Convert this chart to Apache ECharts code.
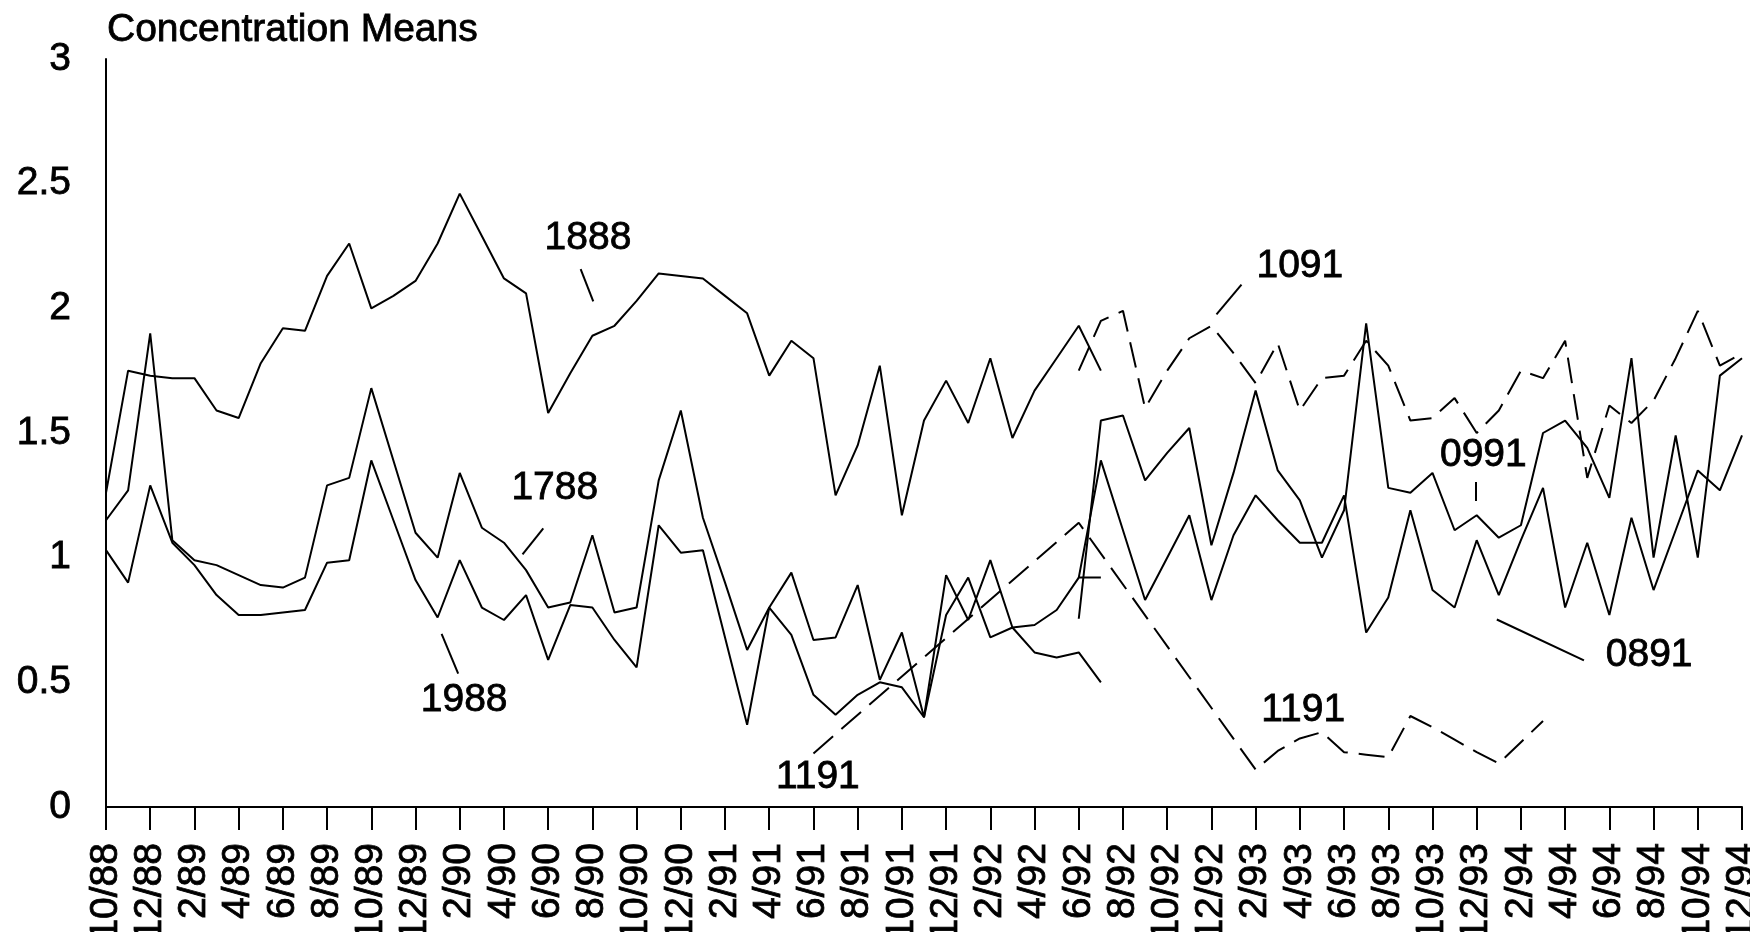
<!DOCTYPE html>
<html>
<head>
<meta charset="utf-8">
<script src="https://cdn.jsdelivr.net/npm/echarts@6/dist/echarts.min.js"></script>
<style>
html,body{margin:0;padding:0;background:#fff;}
#chart{width:1750px;height:932px;}
</style>
</head>
<body>
<div id="chart"></div>
<script>
// month index 0 = 10/88 ... 74 = 12/94 ; tick labels every 2 months
const tickLabels = ["10/88","12/88","2/89","4/89","6/89","8/89","10/89","12/89","2/90","4/90","6/90","8/90","10/90","12/90","2/91","4/91","6/91","8/91","10/91","12/91","2/92","4/92","6/92","8/92","10/92","12/92","2/93","4/93","6/93","8/93","10/93","12/93","2/94","4/94","6/94","8/94","10/94","12/94"];

const s1888 = [1.26,1.75,1.73,1.72,1.72,1.59,1.56,1.78,1.92,1.91,2.13,2.26,2.00,2.05,2.11,2.26,2.46,2.29,2.12,2.06,1.58,1.74,1.89,1.93,2.03,2.14,2.13,2.12,2.05,1.98,1.73,1.87,1.80,1.25,1.45,1.77,1.17,1.55,1.71,1.54,1.80,1.48,1.67,1.80,1.93,1.75,
 null,null,null,null,null,null,null,null,null,null,null,null,null,null,null,null,null,null,null,null,null,null,null,null,null,null,null,null,null];
const s1788 = [1.15,1.27,1.90,1.07,0.99,0.97,0.93,0.89,0.88,0.92,1.29,1.32,1.68,1.39,1.10,1.00,1.34,1.12,1.06,0.95,0.80,0.82,1.09,0.78,0.80,1.31,1.59,1.16,0.90,0.63,0.80,0.94,0.67,0.68,0.89,0.51,0.70,0.36,0.93,0.75,0.99,0.72,0.73,0.79,0.92,0.92,
 null,null,null,null,null,null,null,null,null,null,null,null,null,null,null,null,null,null,null,null,null,null,null,null,null,null,null,null,null];
const s1988 = [1.03,0.90,1.29,1.06,0.97,0.85,0.77,0.77,0.78,0.79,0.98,0.99,1.39,1.15,0.91,0.76,0.99,0.80,0.75,0.85,0.59,0.81,0.80,0.67,0.56,1.13,1.02,1.03,0.68,0.33,0.80,0.69,0.45,0.37,0.45,0.50,0.48,0.36,0.77,0.92,0.68,0.72,0.62,0.60,0.62,0.50,
 null,null,null,null,null,null,null,null,null,null,null,null,null,null,null,null,null,null,null,null,null,null,null,null,null,null,null,null,null];
const s1091 = [null,null,null,null,null,null,null,null,null,null,null,null,null,null,null,null,null,null,null,null,null,null,null,null,null,null,null,null,null,null,null,null,null,null,null,null,null,null,null,null,null,null,null,null,
 1.75,1.95,1.99,1.60,1.75,1.88,1.93,1.82,1.70,1.86,1.59,1.72,1.73,1.87,1.77,1.55,1.56,1.64,1.50,1.59,1.75,1.72,1.87,1.32,1.61,1.54,1.63,1.80,1.99,1.77,1.82];
const s0991 = [null,null,null,null,null,null,null,null,null,null,null,null,null,null,null,null,null,null,null,null,null,null,null,null,null,null,null,null,null,null,null,null,null,null,null,null,null,null,null,null,null,null,null,null,
 0.755,1.55,1.57,1.31,1.42,1.52,1.05,1.34,1.67,1.35,1.23,1.00,1.19,1.94,1.28,1.26,1.34,1.11,1.17,1.08,1.13,1.50,1.55,1.44,1.24,1.80,1.00,1.49,1.00,1.73,1.80];
const s0891 = [null,null,null,null,null,null,null,null,null,null,null,null,null,null,null,null,null,null,null,null,null,null,null,null,null,null,null,null,null,null,null,null,null,null,null,null,null,null,null,null,null,null,null,null,
 0.92,1.39,1.11,0.83,1.00,1.17,0.83,1.09,1.25,1.15,1.06,1.06,1.25,0.70,0.84,1.19,0.87,0.80,1.07,0.85,1.07,1.28,0.80,1.06,0.77,1.16,0.87,1.11,1.35,1.27,1.49];
const s1191 = [null,null,null,null,null,null,null,null,null,null,null,null,null,null,null,null,null,null,null,null,null,null,null,null,null,null,null,null,null,null,null,null,
 0.215,null,null,null,null,null,null,null,null,null,null,null,
 1.14,null,null,null,null,null,null,null,
 0.15,0.225,0.275,0.30,0.22,0.21,0.20,0.365,0.32,0.27,0.22,0.175,0.26,0.345,
 null,null,null,null,null,null,null,null,null];

// annotation labels: [monthIndex, value, text]
const labelPos = [
  [21.8, 2.28, "1888"],
  [20.3, 1.28, "1788"],
  [16.2, 0.43, "1988"],
  [32.2, 0.12, "1191"],
  [54.15, 0.39, "1191"],
  [54.0, 2.17, "1091"],
  [62.3, 1.41, "0991"],
  [69.8, 0.61, "0891"]
];
// leader lines: [[x1,y1],[x2,y2]]
const leaders = [
  [[21.47, 2.157], [22.04, 2.028]],
  [[18.84, 1.013], [19.78, 1.117]],
  [[15.18, 0.694], [15.93, 0.535]],
  [[50.23, 1.976], [51.36, 2.095]],
  [[61.95, 1.303], [61.95, 1.227]],
  [[62.91, 0.752], [66.85, 0.588]]
];

const FONT = '"Liberation Sans", Arial, sans-serif';
const FS = 39;
const TB = {textBorderColor:'#000', textBorderWidth:0.8};
function pairs(arr){ const out=[]; arr.forEach((v,i)=>{ if(v!=null) out.push([i,v]); }); return out; }
function lineSeries(name, arr, dashed){
  return {
    name, type:'line', data: pairs(arr), symbol:'none', silent:true,
    lineStyle:{color:'#000', width:2, type: dashed ? [26,11] : 'solid'},
    z: 3
  };
}

const chart = echarts.init(document.getElementById('chart'), null, {renderer:'canvas'});
chart.setOption({
  animation:false,
  backgroundColor:'#fff',
  textStyle:{fontFamily:FONT, color:'#000'},
  title:{
    text:'Concentration Means', left:102, top:6,
    textStyle:Object.assign({fontFamily:FONT, fontSize:FS, fontWeight:'normal', color:'#000'}, TB)
  },
  grid:{left:106, right:8, top:59, bottom:125, containLabel:false, outerBoundsMode:'none'},
  xAxis:{
    type:'value', min:0, max:74, interval:2,
    axisLine:{show:true, onZero:false, lineStyle:{color:'#000', width:2}},
    axisTick:{show:true, length:23, inside:false, lineStyle:{color:'#000', width:2}},
    splitLine:{show:false},
    axisLabel:Object.assign({
      rotate:90, margin:36, fontSize:FS, color:'#000', fontFamily:FONT,
      showMinLabel:true, showMaxLabel:true,
      formatter:(v)=> tickLabels[Math.round(v/2)]
    }, TB)
  },
  yAxis:{
    type:'value', min:0, max:3, interval:0.5,
    axisLine:{show:true, lineStyle:{color:'#000', width:2}},
    axisTick:{show:false},
    splitLine:{show:false},
    axisLabel:Object.assign({margin:35, fontSize:FS, color:'#000', fontFamily:FONT}, TB)
  },
  series:[
    lineSeries('1888', s1888, false),
    lineSeries('1788', s1788, false),
    lineSeries('1988', s1988, false),
    lineSeries('1091', s1091, true),
    lineSeries('0991', s0991, false),
    lineSeries('0891', s0891, false),
    lineSeries('1191', s1191, true),
    {
      type:'lines', coordinateSystem:'cartesian2d', silent:true, z:4,
      lineStyle:{color:'#000', width:2, opacity:1, curveness:0},
      data: leaders.map(c=>({coords:c}))
    },
    {
      type:'scatter', symbolSize:0, silent:true, z:5,
      itemStyle:{color:'#000', opacity:1},
      data: labelPos.map(p=>({value:[p[0],p[1]], name:p[2]})),
      label:Object.assign({show:true, position:'inside', formatter:'{b}', fontFamily:FONT, fontSize:FS,
             color:'#000', opacity:1}, TB)
    }
  ]
});
</script>
</body>
</html>
